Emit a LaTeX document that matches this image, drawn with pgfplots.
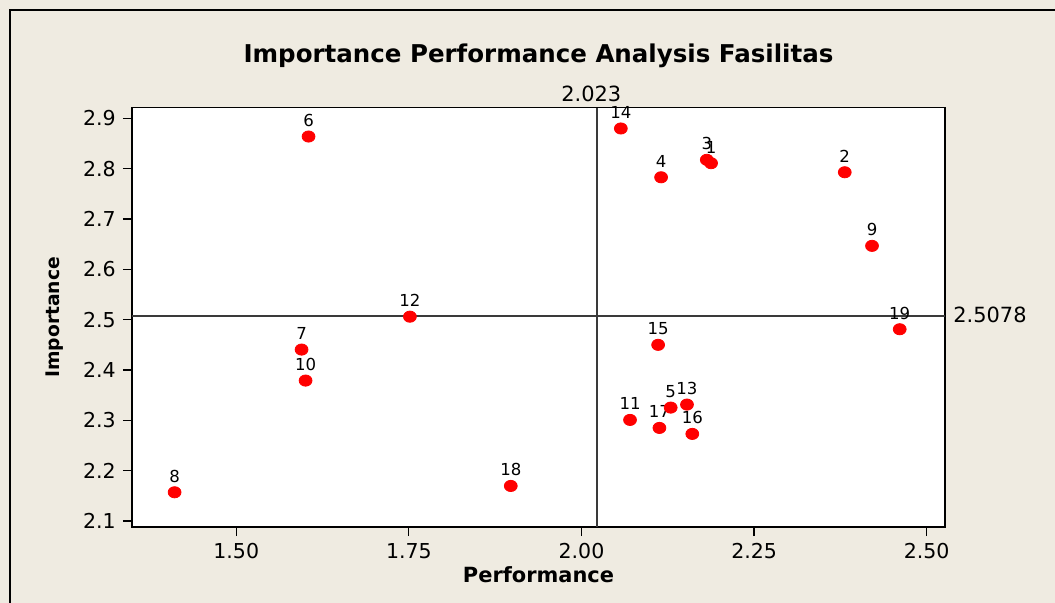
\documentclass[border=0pt]{standalone}
\usepackage{fontspec}
\setmainfont{DejaVu Sans}
\usepackage{pgfplots}
\pgfplotsset{compat=1.18}
\definecolor{bgbeige}{HTML}{EFEBE1}
\definecolor{refgray}{HTML}{3A3A3A}
\definecolor{dotred}{HTML}{FF0000}
\begin{document}
\begin{tikzpicture}
\path[use as bounding box,fill=bgbeige] (0bp,0bp) rectangle (527.5bp,301.5bp);
\draw[black,line width=0.7bp] (5bp,-2bp) -- (5bp,296.5bp) -- (530bp,296.5bp);
\begin{axis}[
  at={(66bp,38bp)},anchor=south west,scale only axis,
  width=406.5bp,height=209.7bp,
  xmin=1.349,xmax=2.5265,ymin=2.088,ymax=2.9215,
  axis background/.style={fill=white},
  axis line style={black,line width=0.6bp},
  tick style={black,line width=0.6bp},
  xtick pos=bottom,ytick pos=left,tick align=outside,major tick length=4.6bp,
  xtick={1.5,1.75,2,2.25,2.5},xticklabels={1.50,1.75,2.00,2.25,2.50},
  ytick={2.1,2.2,2.3,2.4,2.5,2.6,2.7,2.8,2.9},
  yticklabels={2.1,2.2,2.3,2.4,2.5,2.6,2.7,2.8,2.9},
  ticklabel style={font=\fontsize{10.3}{12}\selectfont},
  clip=false,
  title={\bfseries Importance Performance Analysis Fasilitas},
  title style={at={(axis description cs:0.5,1.094)},anchor=center,yshift=0pt,font=\fontsize{12.3}{14}\selectfont},
  xlabel={\bfseries Performance},
  xlabel style={at={(axis description cs:0.5,-0.1145)},anchor=center,font=\fontsize{10.5}{12}\selectfont},
  ylabel={\bfseries Importance},
  ylabel style={at={(axis description cs:-0.0947,0.5)},anchor=center,font=\fontsize{9.4}{11}\selectfont},
]
\addplot[refgray,line width=0.9bp] coordinates {(2.023,2.088) (2.023,2.9215)};
\addplot[refgray,line width=0.9bp] coordinates {(1.349,2.5078) (2.5265,2.5078)};
\addplot[only marks,mark=*,mark size=2.8bp,dotred,mark options={xscale=1.15,draw=dotred,fill=dotred},
  point meta=explicit symbolic,nodes near coords,
  every node near coord/.style={anchor=base,inner sep=0pt,yshift=5bp,black,font=\fontsize{8.3}{9}\selectfont}]
coordinates {
(1.6047,2.864)[6]
(2.057,2.880)[14]
(2.1815,2.8177)[3]
(2.1877,2.811)[1]
(2.1153,2.783)[4]
(2.3813,2.793)[2]
(2.4208,2.6467)[9]
(2.4609,2.481)[19]
(1.7515,2.506)[12]
(1.5946,2.4406)[7]
(1.6004,2.379)[10]
(1.4107,2.157)[8]
(1.8976,2.1696)[18]
(2.0703,2.3008)[11]
(2.1129,2.2849)[17]
(2.1292,2.3253)[5]
(2.1528,2.3313)[13]
(2.1605,2.273)[16]
(2.111,2.45)[15]
};
\node[font=\fontsize{10.5}{12}\selectfont,anchor=center] at (axis cs:2.023,2.9215) [xshift=-3bp,yshift=7bp] {2.023};
\node[font=\fontsize{10.5}{12}\selectfont,anchor=west,inner sep=0pt] at (axis cs:2.5265,2.5078) [xshift=4bp,yshift=0.5bp] {2.5078};
\end{axis}
\end{tikzpicture}
\end{document}
